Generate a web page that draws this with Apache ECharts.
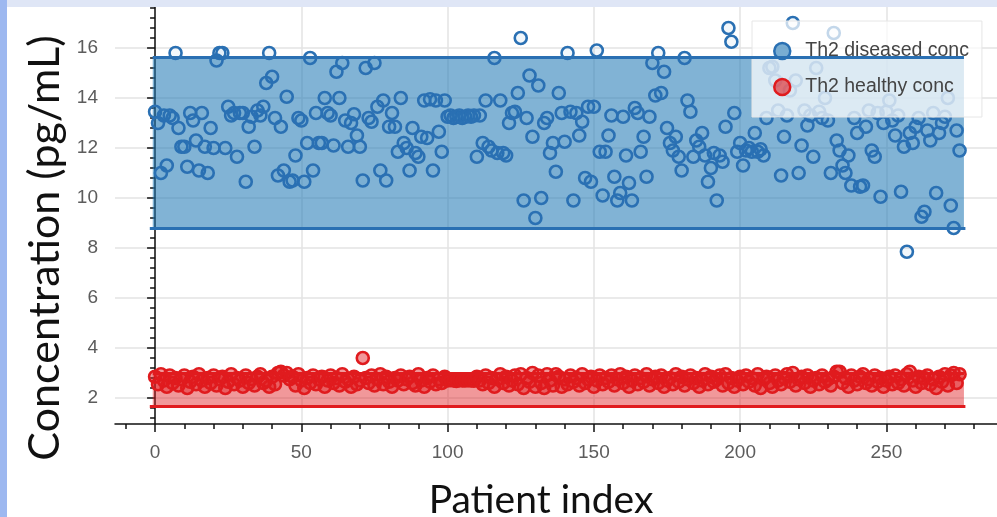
<!DOCTYPE html>
<html>
<head>
<meta charset="utf-8">
<script src="https://cdn.jsdelivr.net/npm/echarts@6/dist/echarts.min.js"></script>
<style>
html,body{margin:0;padding:0;background:#fff;}
#chart{width:997px;height:517px;}
</style>
</head>
<body>
<div id="chart"></div>
<script>
// ---- data ----
const diseasedName = 'Th2 diseased conc';
const healthyName = 'Th2 healthy conc';

const diseased = [
13.45,13.0,11.0,13.3,11.3,13.3,13.2,15.8,12.8,12.05,
12.05,11.25,13.4,13.1,12.3,11.1,13.4,12.05,11.0,12.8,
12.0,15.5,15.8,15.8,12.0,13.65,13.3,13.4,11.65,13.4,
13.4,10.65,12.85,13.25,12.05,13.5,13.3,13.65,14.6,15.8,
14.85,13.2,10.9,12.85,11.1,14.05,10.65,10.7,11.7,13.2,
13.1,10.65,12.2,15.6,11.1,13.4,12.2,12.2,14.0,13.4,
13.3,12.1,15.05,14.0,15.4,13.1,12.05,13.0,13.35,12.5,
12.05,10.7,15.2,13.2,13.05,15.4,13.65,11.1,13.9,10.7,
12.85,13.4,12.85,11.85,14.0,12.2,12.0,11.1,12.8,11.8,
11.65,12.45,13.9,12.4,13.95,11.1,13.9,12.65,11.85,13.9,
13.25,13.3,13.2,13.25,13.3,13.2,13.25,13.3,13.25,13.3,
11.65,13.3,12.2,13.9,12.05,11.9,15.6,11.8,13.9,11.8,
11.7,13.0,13.4,13.45,14.2,16.4,9.9,13.2,14.9,12.45,
9.2,14.5,10.0,13.0,13.2,11.8,12.2,11.05,14.2,13.4,
12.25,15.8,13.45,9.9,13.4,12.5,13.05,10.8,13.65,10.65,
13.65,15.9,11.85,10.1,11.85,12.5,13.3,10.85,9.9,10.2,
13.25,11.7,10.6,9.9,13.6,13.4,11.85,12.45,10.85,13.25,
15.4,14.1,15.8,14.2,15.05,12.8,12.2,11.9,12.45,11.65,
11.1,15.6,13.9,13.45,11.65,12.3,12.05,12.6,11.7,10.65,
11.2,11.8,9.9,11.7,11.45,12.85,16.8,16.25,13.4,11.85,
12.2,11.3,11.9,12.0,11.85,12.6,11.85,11.95,11.7,13.2,
15.2,15.25,14.7,13.5,10.9,12.45,13.3,14.3,17.0,14.7,
11.0,12.1,13.5,12.9,13.3,11.65,15.2,13.45,13.2,14.0,
13.1,11.0,16.6,12.3,11.9,11.3,11.0,11.7,10.5,13.2,
12.6,10.45,10.5,12.85,13.5,11.9,11.65,13.4,10.05,13.0,
13.45,13.9,13.1,12.5,13.3,10.25,12.05,7.85,12.6,12.2,
12.85,13.2,9.25,9.45,12.7,12.3,13.4,10.2,12.6,13.0,
13.25,14.0,9.7,8.8,12.7,11.9
];

const healthy = [
2.85,2.55,2.95,2.7,2.45,2.9,2.6,2.8,2.5,2.75,2.9,2.4,
2.65,2.85,2.55,2.95,2.7,2.45,2.8,2.6,2.9,2.5,2.75,2.85,
2.4,2.65,2.95,2.55,2.8,2.7,2.45,2.9,2.6,2.75,2.5,2.85,
2.95,2.6,2.7,2.45,2.85,2.55,3.0,3.05,2.9,3.0,2.75,2.85,
2.5,2.95,2.7,2.4,2.8,2.6,2.9,2.55,2.75,2.85,2.45,2.7,
2.9,2.6,2.8,2.5,2.95,2.65,2.75,2.45,2.85,2.55,2.7,3.6,
2.8,2.6,2.9,2.5,2.75,2.95,2.55,2.85,2.65,2.45,2.8,2.7,
2.9,2.55,2.75,2.85,2.6,2.5,2.95,2.7,2.45,2.8,2.65,2.9,
2.55,2.75,2.6,2.85,2.7,2.72,2.7,2.68,2.72,2.7,2.7,2.71,
2.7,2.69,2.85,2.7,2.55,2.9,2.6,2.8,2.45,2.75,2.95,2.6,
2.85,2.5,2.7,2.9,2.55,2.95,2.4,2.8,2.65,3.0,2.45,2.9,
2.6,2.4,2.95,2.7,2.5,2.95,2.85,2.45,2.75,2.55,2.9,2.65,
2.8,2.5,2.95,2.6,2.75,2.85,2.45,2.7,2.9,2.55,2.8,2.65,
2.9,2.5,2.75,2.95,2.6,2.85,2.45,2.7,2.9,2.55,2.8,2.65,
2.95,2.5,2.75,2.85,2.6,2.9,2.45,2.7,2.8,2.55,2.95,2.65,
2.85,2.5,2.75,2.9,2.6,2.8,2.45,2.7,2.95,2.55,2.85,2.65,
2.75,2.9,2.5,2.95,2.6,2.8,2.45,2.7,2.85,2.55,2.9,2.65,
2.8,2.5,2.95,2.4,2.75,2.85,2.6,2.45,2.9,2.7,2.55,2.8,
2.95,2.65,3.0,2.5,2.75,2.85,2.6,2.9,2.45,2.7,2.8,2.55,
2.9,2.65,2.75,2.5,2.85,3.05,3.05,2.6,2.8,2.45,2.9,2.7,
2.55,2.85,2.95,2.6,2.75,2.5,2.9,2.65,2.8,2.45,2.7,2.85,
2.55,2.9,2.6,2.75,2.5,2.95,3.05,2.7,2.45,2.85,2.6,2.8,
2.9,2.55,2.75,2.4,2.85,2.65,2.95,2.5,2.9,3.0,2.6,2.95
];

// shaded ranges [low, high] and their x extent
const diseasedBand = [8.78, 15.62];
const healthyBand = [1.68, 3.0];
const bandX = [-0.8, 276.5];

// axis ticks
const xTicks = [0, 50, 100, 150, 200, 250];
const yTicks = [2, 4, 6, 8, 10, 12, 14, 16];
const xRange = [-13.7, 287.8];
const yRange = [0.96, 17.64];

// ---- build ----
const blueLine = '#2a70b3';
const redLine = '#e01b1e';
const diseasedPts = diseased.map((v, i) => [i, v]);
const healthyPts = healthy.map((v, i) => [i, v]);

const xMinor = [];
for (let v = -10; v <= 280; v += 10) xMinor.push(v);
const yMinor = [];
for (let k = 3; k <= 44; k++) yMinor.push(+(k * 0.4).toFixed(1));

function bandSeries(range, line, fill) {
  return {
    type: 'line', data: [], silent: true, z: 1,
    markArea: { silent: true, itemStyle: { color: fill },
      data: [[{ coord: [bandX[0], range[0]] }, { coord: [bandX[1], range[1]] }]] },
    markLine: { silent: true, symbol: 'none', label: { show: false },
      lineStyle: { color: line, width: 3, type: 'solid' },
      data: [
        [{ coord: [bandX[0] - 1, range[0]] }, { coord: [bandX[1] + 0.5, range[0]] }],
        [{ coord: [bandX[0], range[1]] }, { coord: [bandX[1], range[1]] }]
      ] }
  };
}

const chart = echarts.init(document.getElementById('chart'), null, { renderer: 'canvas' });
const gridColor = '#e3e3e3';
const labelStyle = { color: '#5c5c5c', fontSize: 19, fontFamily: 'Liberation Sans' };

chart.setOption({
  backgroundColor: '#ffffff',
  animation: false,
  grid: { left: 115, right: 0, top: 7, bottom: 93, containLabel: false },
  graphic: [
    { type: 'rect', shape: { x: 0, y: 0, width: 997, height: 7 }, style: { fill: '#dfe6f6' }, z: 100 },
    { type: 'rect', shape: { x: 0, y: 0, width: 7, height: 517 }, style: { fill: '#9db8f0' }, z: 100 },
    { type: 'text', x: 541, y: 500, z: 100,
      style: { text: 'Patient index', font: '39px Lato', fill: '#111', textAlign: 'center', textVerticalAlign: 'middle' } },
    { type: 'text', x: 45, y: 248, rotation: Math.PI / 2, z: 100,
      style: { text: 'Concentration (pg/mL)', font: '43px Lato', fill: '#111', textAlign: 'center', textVerticalAlign: 'middle' } }
  ],
  legend: {
    orient: 'vertical', left: 752, top: 21,
    padding: [20, 13, 20, 21], itemGap: 16, itemWidth: 36, itemHeight: 16,
    backgroundColor: 'rgba(255,255,255,0.72)', borderColor: '#e6e6e6', borderWidth: 1,
    textStyle: { color: '#444', fontSize: 19.5, fontFamily: 'Liberation Sans' },
    data: [
      { name: diseasedName, icon: 'circle', itemStyle: { color: 'rgba(31,119,180,0.6)', borderColor: blueLine, borderWidth: 2.5 } },
      { name: healthyName, icon: 'circle', itemStyle: { color: 'rgba(224,27,30,0.6)', borderColor: redLine, borderWidth: 2.5 } }
    ]
  },
  xAxis: [
    { type: 'value', min: xRange[0], max: xRange[1],
      axisLine: { lineStyle: { color: '#111', width: 1.5 } },
      axisTick: { customValues: xTicks, length: 8, lineStyle: { color: '#111', width: 1.5 } },
      axisLabel: { customValues: xTicks, margin: 19, ...labelStyle },
      splitLine: { show: true, lineStyle: { color: gridColor, width: 1.5 } } },
    { type: 'value', min: xRange[0], max: xRange[1], position: 'bottom',
      axisLine: { show: false },
      axisTick: { customValues: xMinor, length: 5, lineStyle: { color: '#111', width: 1.5 } },
      axisLabel: { show: false }, splitLine: { show: false } }
  ],
  yAxis: [
    { type: 'value', min: yRange[0], max: yRange[1],
      axisLine: { show: true, lineStyle: { color: '#111', width: 1.5 } },
      axisTick: { show: true, customValues: yTicks, length: 8, lineStyle: { color: '#111', width: 1.5 } },
      axisLabel: { customValues: yTicks, margin: 17, ...labelStyle },
      splitLine: { show: true, lineStyle: { color: gridColor, width: 1.5 } } },
    { type: 'value', min: yRange[0], max: yRange[1], position: 'left',
      axisLine: { show: false },
      axisTick: { show: true, customValues: yMinor, length: 5, lineStyle: { color: '#111', width: 1.5 } },
      axisLabel: { show: false }, splitLine: { show: false } }
  ],
  series: [
    bandSeries(diseasedBand, blueLine, 'rgba(31,119,180,0.56)'),
    bandSeries(healthyBand, redLine, 'rgba(224,27,30,0.45)'),
    { name: diseasedName, type: 'scatter', data: diseasedPts, z: 3,
      symbol: 'circle', symbolSize: 12,
      itemStyle: { color: 'rgba(31,119,180,0.06)', borderColor: blueLine, borderWidth: 2.6, opacity: 1 } },
    { name: healthyName, type: 'scatter', data: healthyPts, z: 3,
      symbol: 'circle', symbolSize: 12,
      itemStyle: { color: 'rgba(224,27,30,0.45)', borderColor: redLine, borderWidth: 2.6, opacity: 1 } }
  ]
});
</script>
</body>
</html>
